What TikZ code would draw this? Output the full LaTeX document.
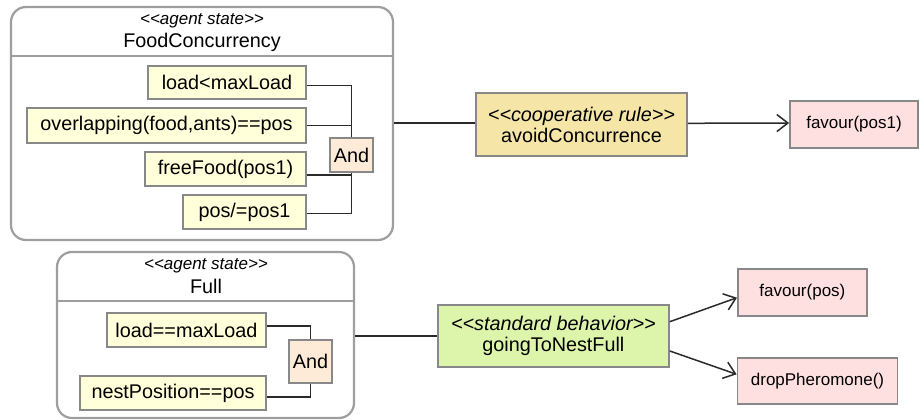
\documentclass[tikz,border=0pt]{standalone}
\usepackage{fontspec}
\setmainfont{Liberation Sans}
\usetikzlibrary{arrows.meta}
\definecolor{condfill}{HTML}{FFFFD9}
\definecolor{andfill}{HTML}{FDEBD8}
\definecolor{rulefill}{HTML}{F5E6A8}
\definecolor{goalfill}{HTML}{DDF5AA}
\definecolor{actfill}{HTML}{FFE0E0}
\definecolor{bordergray}{HTML}{888888}
\definecolor{stategray}{HTML}{9E9E9E}
\definecolor{linegray}{HTML}{2A2A2A}
\newcommand\stlt{<\kern0pt<}
\newcommand\stgt{>\kern0pt>}
\tikzset{
  mainfont/.style={font=\fontsize{19.8}{23}\selectfont},
  statebox/.style={draw=stategray, line width=2.2pt, rounded corners=15pt, inner sep=0pt},
  sepline/.style={draw=stategray, line width=1.8pt},
  stereo/.style={font=\fontsize{17}{20}\selectfont\itshape, inner sep=0pt},
  statename/.style={mainfont, inner sep=0pt},
  cond/.style={draw=bordergray, fill=condfill, line width=1.8pt, inner sep=0pt, mainfont},
  andbox/.style={draw=bordergray, fill=andfill, line width=1.8pt, inner sep=0pt, mainfont},
  rulebox/.style={draw=bordergray, fill=rulefill, line width=1.8pt, inner sep=0pt, mainfont, align=center},
  goalbox/.style={draw=bordergray, fill=goalfill, line width=1.8pt, inner sep=0pt, mainfont, align=center},
  actbox/.style={draw=bordergray, fill=actfill, line width=1.8pt, inner sep=0pt, font=\fontsize{17}{20}\selectfont},
  conn/.style={draw=linegray, line width=1.5pt},
  arr/.style={conn, -{Straight Barb[length=11pt,width=17pt,line width=1.5pt]}}
}
\begin{document}
\begin{tikzpicture}[x=1pt,y=-1pt]
\useasboundingbox (0,0) rectangle (922,420);
% ---------- FoodConcurrency state ----------
\node[statebox, minimum width=382pt, minimum height=233pt] (fc) at (202,123.5) {};
\draw[sepline] (fc.west |- 0,56) -- (fc.east |- 0,56);
\node[stereo] (fcst) at (202,21) {\stlt agent state\stgt};
\node[statename] (fcname) at (202,42) {FoodConcurrency};
\node[cond, minimum width=158pt, minimum height=33pt] (c1) at (227,82.5) {load<maxLoad};
\node[cond, minimum width=279pt, minimum height=35pt] (c2) at (166.5,125.5) {overlapping(food,ants)==pos};
\node[cond, minimum width=161pt, minimum height=34pt] (c3) at (225.5,169) {freeFood(pos1)};
\node[cond, minimum width=123pt, minimum height=34pt] (c4) at (244.5,212) {pos/=pos1};
\node[andbox, minimum width=43pt, minimum height=34pt] (and1) at (351.5,155) {And};
\draw[conn] ([yshift=-3pt]c1.east) -| (and1.north);
\draw[conn] (c2.east) -- (c2.east -| and1.north);
\draw[conn] ([yshift=-6pt]c3.east) -- ([yshift=-6pt]c3.east -| and1.south);
\draw[conn] ([yshift=-1.5pt]c4.east) -| (and1.south);
% rule
\node[rulebox, minimum width=211pt, minimum height=63pt] (rule) at (581.5,124.5) {\textit{\stlt cooperative rule\stgt}\\[-2pt]avoidConcurrence};
\node[actbox, minimum width=128pt, minimum height=47pt] (fav1) at (854,124.2) {favour(pos1)};
\draw[conn] ([yshift=1.5pt]rule.west -| fc.east) -- ([yshift=1.5pt]rule.west);
\draw[arr] ([yshift=1.2pt]rule.east) -- ([yshift=1.2pt]fav1.west);
% ---------- Full state ----------
\node[statebox, minimum width=297pt, minimum height=166pt] (full) at (205.5,335) {};
\draw[sepline] (full.west |- 0,301) -- (full.east |- 0,301);
\node[stereo] (fust) at (206,266) {\stlt agent state\stgt};
\node[statename] (funame) at (206,286) {Full};
\node[cond, minimum width=159pt, minimum height=34pt] (d1) at (186.5,330) {load==maxLoad};
\node[cond, minimum width=186pt, minimum height=34pt] (d2) at (173,393) {nestPosition==pos};
\node[andbox, minimum width=43pt, minimum height=43pt] (and2) at (310.5,361.5) {And};
\draw[conn] ([yshift=4pt]d1.east) -| (and2.north);
\draw[conn] ([yshift=-4pt]d2.east) -| (and2.south);
% goal
\node[goalbox, minimum width=231pt, minimum height=62pt] (goal) at (553.4,336.2) {\textit{\stlt standard behavior\stgt}\\[-2pt]goingToNestFull};
\node[actbox, minimum width=129pt, minimum height=47pt] (fav2) at (802.4,292.4) {favour(pos)};
\node[actbox, minimum width=160pt, minimum height=46pt] (drop) at (817.5,380.9) {dropPheromone()};
\draw[conn] (goal.west -| full.east) -- (goal.west);
\draw[arr] ([yshift=14.5pt]goal.east) -- ([yshift=-5.3pt]fav2.west);
\draw[arr] ([yshift=-14.8pt]goal.east) -- ([yshift=6.6pt]drop.west);
\end{tikzpicture}
\end{document}
